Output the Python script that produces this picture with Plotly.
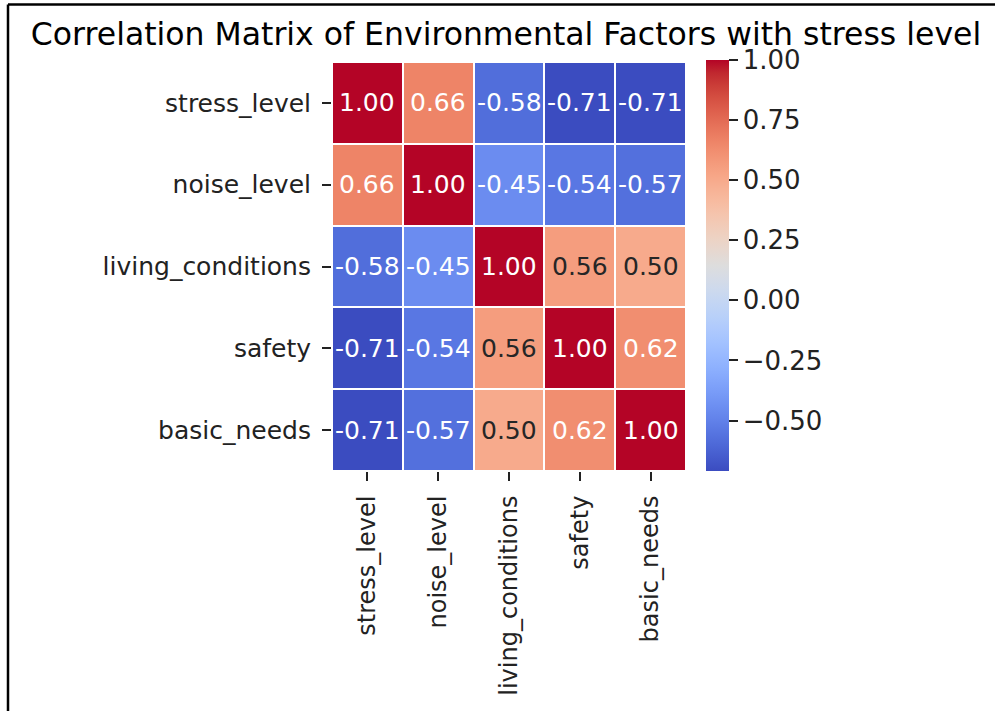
import plotly.graph_objects as go

# ---- data ----
labels = ["stress_level", "noise_level", "living_conditions", "safety", "basic_needs"]
row_stress = [1.00, 0.66, -0.58, -0.71, -0.71]
row_noise = [0.66, 1.00, -0.45, -0.54, -0.57]
row_living = [-0.58, -0.45, 1.00, 0.56, 0.50]
row_safety = [-0.71, -0.54, 0.56, 1.00, 0.62]
row_basic = [-0.71, -0.57, 0.50, 0.62, 1.00]
z = [row_stress, row_noise, row_living, row_safety, row_basic]
cbar_ticks = [-0.50, -0.25, 0.00, 0.25, 0.50, 0.75, 1.00]
title_text = "Correlation Matrix of Environmental Factors with stress level"

zmin = min(min(r) for r in z)
zmax = max(max(r) for r in z)

# matplotlib "coolwarm" (Moreland) colour table
CW = [
    (59, 76, 192), (68, 90, 204), (77, 104, 215), (87, 117, 225), (98, 130, 234),
    (108, 142, 241), (119, 154, 247), (130, 165, 251), (141, 176, 254), (152, 185, 255),
    (163, 194, 255), (174, 201, 253), (184, 208, 249), (194, 213, 244), (204, 217, 238),
    (213, 219, 230), (221, 221, 221), (229, 216, 209), (236, 211, 197), (241, 204, 185),
    (245, 196, 173), (247, 187, 160), (247, 177, 148), (247, 166, 135), (244, 154, 123),
    (241, 141, 111), (236, 127, 99), (229, 112, 88), (222, 96, 77), (213, 80, 66),
    (203, 62, 56), (192, 40, 47), (180, 4, 38),
]
n = len(CW) - 1
colorscale = [[i / n, "rgb(%d,%d,%d)" % c] for i, c in enumerate(CW)]


def cmap(t):
    t = max(0.0, min(1.0, t))
    p = t * n
    i = min(int(p), n - 1)
    f = p - i
    a, b = CW[i], CW[i + 1]
    return tuple(a[k] + (b[k] - a[k]) * f for k in range(3))


def rel_lum(c):
    out = []
    for v in c:
        v = v / 255.0
        out.append(v / 12.92 if v <= 0.03928 else ((v + 0.055) / 1.055) ** 2.4)
    return 0.2126 * out[0] + 0.7152 * out[1] + 0.0722 * out[2]


FONT = "DejaVu Sans"
W, H = 995, 711

fig = go.Figure()
fig.add_trace(go.Heatmap(
    z=z, x=labels, y=labels,
    zmin=zmin, zmax=zmax,
    colorscale=colorscale,
    xgap=2, ygap=2,
    hoverinfo="skip",
    colorbar=dict(
        x=706 / W, xanchor="left", xpad=0,
        y=1 - 60 / H, yanchor="top", ypad=0,
        len=411, lenmode="pixels",
        thickness=23, thicknessmode="pixels",
        outlinewidth=0,
        tickvals=cbar_ticks,
        tickformat=".2f",
        tickprefix="\u2009",
        ticks="outside", ticklen=9, tickwidth=2, tickcolor="#222",
        tickfont=dict(family=FONT, size=26, color="#222"),
    ),
))

annotations = []
for r, row in enumerate(z):
    for c, v in enumerate(row):
        col = cmap((v - zmin) / (zmax - zmin))
        txt_col = "#262626" if rel_lum(col) > 0.408 else "white"
        annotations.append(dict(
            x=labels[c], y=labels[r], xref="x", yref="y",
            text="%.2f" % v, showarrow=False,
            font=dict(family=FONT, size=25, color=txt_col),
        ))

fig.update_layout(
    width=W, height=H,
    margin=dict(l=0, r=0, t=0, b=0, autoexpand=False),
    paper_bgcolor="white", plot_bgcolor="white",
    font=dict(family=FONT, color="#222"),
    title=dict(
        text=title_text, x=506 / W, xanchor="center", xref="paper",
        y=1 - 34 / H, yanchor="middle", yref="paper",
        font=dict(family=FONT, size=31.5, color="black"),
    ),
    xaxis=dict(
        domain=[332 / W, 686 / W],
        tickangle=-90,
        ticks="outside", ticklen=9, tickwidth=2, tickcolor="#222",
        tickfont=dict(family=FONT, size=24, color="#222"),
        showgrid=False, zeroline=False, showline=False,
        ticklabelstandoff=5, automargin=False,
    ),
    yaxis=dict(
        domain=[1 - 471 / H, 1 - 62 / H],
        autorange="reversed",
        ticks="outside", ticklen=9, tickwidth=2, tickcolor="#222",
        tickfont=dict(family=FONT, size=25, color="#222"),
        showgrid=False, zeroline=False, showline=False,
        ticklabelstandoff=6, automargin=False,
    ),
    annotations=annotations,
    shapes=[
        dict(type="line", xref="paper", yref="paper",
             x0=8 / W, x1=1, y0=1 - 4.5 / H, y1=1 - 4.5 / H,
             line=dict(color="black", width=2.5)),
        dict(type="line", xref="paper", yref="paper",
             x0=8 / W, x1=8 / W, y0=0, y1=1 - 4.5 / H,
             line=dict(color="black", width=2.5)),
    ],
)

fig.write_html(
    "out.html",
    config={"displayModeBar": False},
    post_script="document.body.style.margin='0';document.body.style.overflow='hidden';",
)
